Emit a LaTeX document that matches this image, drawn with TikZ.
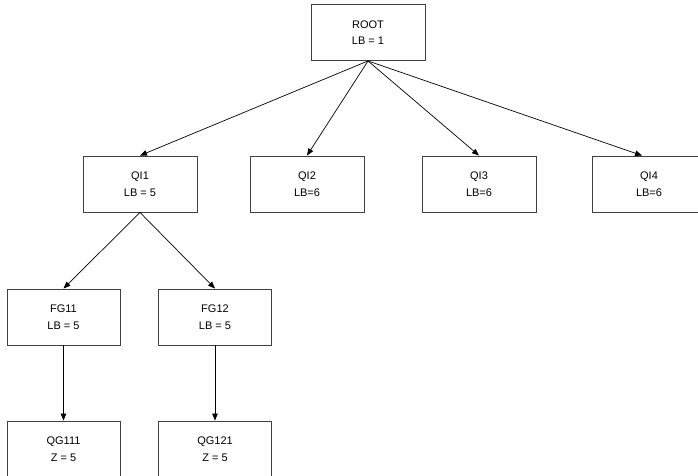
\documentclass[tikz,border=0pt]{standalone}
\usepackage{fontspec}
\setmainfont{Liberation Sans}
\usetikzlibrary{arrows.meta}
\begin{document}
\begin{tikzpicture}[x=1pt,y=-1pt,
  box/.style={draw=black!75, line width=0.9pt, minimum width=114pt, minimum height=56pt, inner sep=0pt, align=center, font=\fontsize{11}{16.5}\selectfont},
  conn/.style={draw=black, line width=0.7pt, -{Triangle[length=7pt,width=5.5pt]}}]
\useasboundingbox (0,0) rectangle (698,476);
\node[box] (root) at (368,32.5) {ROOT\\LB = 1};
\node[box] (qi1) at (140,184) {QI1\\LB = 5};
\node[box] (qi2) at (307,184) {QI2\\LB=6};
\node[box] (qi3) at (479,184) {QI3\\LB=6};
\node[box] (qi4) at (649,184) {QI4\\LB=6};
\node[box, minimum width=113pt] (fg11) at (63.5,317) {FG11\\LB = 5};
\node[box, minimum width=113pt] (fg12) at (215,317) {FG12\\LB = 5};
\node[box, minimum width=113pt] (qg111) at (63.5,449) {QG111\\Z = 5};
\node[box, minimum width=113pt] (qg121) at (215,449) {QG121\\Z = 5};
\draw[conn] (root.south) -- (qi1.north);
\draw[conn] (root.south) -- (qi2.north);
\draw[conn] (root.south) -- (qi3.north);
\draw[conn] (root.south) -- ([xshift=-7pt]qi4.north);
\draw[conn] (qi1.south) -- (fg11.north);
\draw[conn] (qi1.south) -- (fg12.north);
\draw[conn] (fg11.south) -- (qg111.north);
\draw[conn] (fg12.south) -- (qg121.north);
\end{tikzpicture}
\end{document}
